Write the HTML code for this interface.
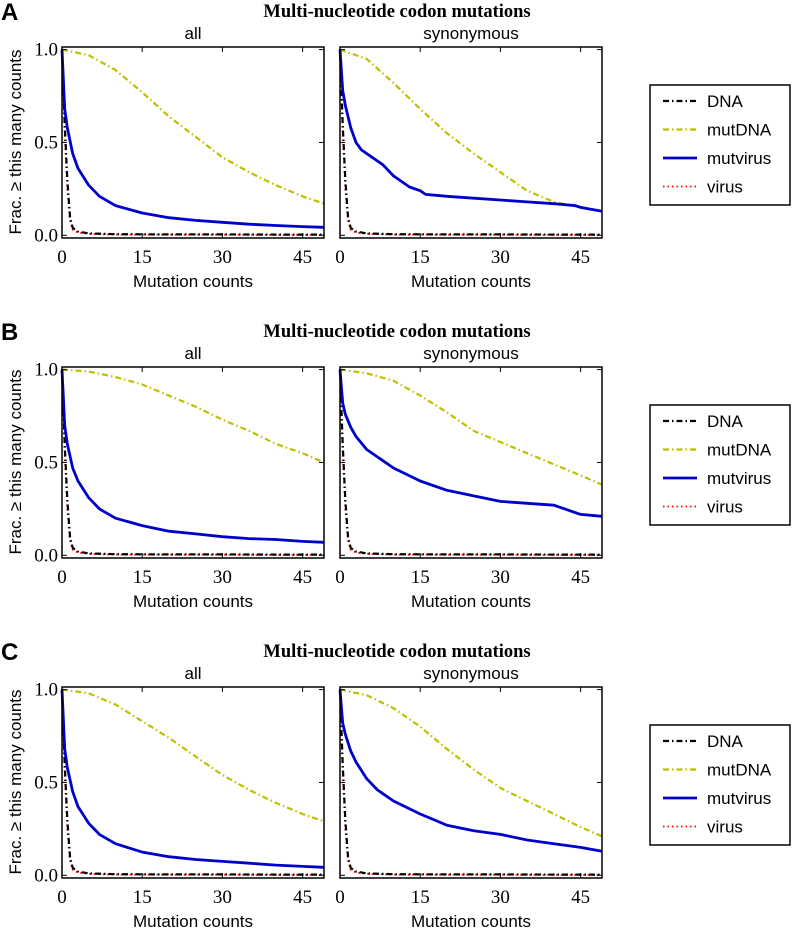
<!DOCTYPE html>
<html><head><meta charset="utf-8">
<style>
body{margin:0;background:#fff;}
svg{display:block;}
.tick{font-family:"Liberation Serif","DejaVu Serif",serif;font-size:19px;fill:#000;}
.lab{font-family:"Liberation Sans",sans-serif;font-size:17px;fill:#000;}
.ttl{font-family:"Liberation Serif","DejaVu Serif",serif;font-size:18.5px;font-weight:bold;fill:#000;}
.pl{font-family:"Liberation Sans",sans-serif;font-size:24px;font-weight:bold;fill:#000;}
</style></head>
<body>
<svg id="fig" width="792" height="929" viewBox="0 0 792 929" xmlns="http://www.w3.org/2000/svg"></svg>
<script>
// shared x positions (mutation counts)
const xsDNA = [0,0.5,1,1.5,2,3,5,10,20,30,40,49];
const dnaVals = [1,0.6,0.3,0.1,0.04,0.02,0.01,0.006,0.005,0.005,0.004,0.004];
const virusVals = [1,0.55,0.25,0.08,0.03,0.015,0.008,0.004,0.003,0.003,0.002,0.002];
const xsMut = [0,5,10,15,20,25,30,35,40,45,49];
const xsVir = [0,0.5,1,2,3,5,7,10,15,20,25,30,35,40,45,49];
const xsSyn = [0,0.5,1,2,3,4,6,8,10,13,15,16,20,25,30,35,40,44,45,49];
const xsSyn2 = [0,0.5,1,2,3,5,7,10,15,20,25,30,35,40,45,49];

const A_all_mutDNA = [1,0.97,0.89,0.77,0.64,0.53,0.42,0.34,0.27,0.21,0.17];
const A_all_mutvirus = [1,0.68,0.58,0.44,0.36,0.27,0.21,0.16,0.12,0.095,0.08,0.07,0.06,0.053,0.047,0.043];
const A_syn_mutDNA = [1,0.95,0.82,0.68,0.55,0.44,0.34,0.24,0.18,0.15,0.13];
const A_syn_mutvirus = [1,0.78,0.7,0.58,0.5,0.46,0.42,0.38,0.32,0.26,0.24,0.22,0.21,0.2,0.19,0.18,0.17,0.16,0.15,0.13];

const B_all_mutDNA = [1,0.99,0.96,0.92,0.86,0.8,0.73,0.67,0.6,0.55,0.5];
const B_all_mutvirus = [1,0.7,0.6,0.47,0.4,0.31,0.25,0.2,0.16,0.13,0.115,0.1,0.09,0.085,0.075,0.07];
const B_syn_mutDNA = [1,0.98,0.94,0.86,0.77,0.67,0.61,0.55,0.49,0.43,0.38];
const B_syn_mutvirus = [1,0.82,0.76,0.69,0.64,0.57,0.53,0.47,0.4,0.35,0.32,0.29,0.28,0.27,0.22,0.21];

const C_all_mutDNA = [1,0.98,0.92,0.83,0.74,0.64,0.54,0.46,0.39,0.33,0.29];
const C_all_mutvirus = [1,0.68,0.58,0.45,0.37,0.28,0.22,0.17,0.125,0.1,0.085,0.075,0.065,0.055,0.048,0.043];
const C_syn_mutDNA = [1,0.97,0.9,0.8,0.68,0.57,0.47,0.4,0.33,0.26,0.21];
const C_syn_mutvirus = [1,0.82,0.76,0.67,0.61,0.52,0.46,0.4,0.33,0.27,0.24,0.22,0.19,0.17,0.15,0.13];

const xTicks = [0,15,30,45];
const yTicks = [0,0.5,1];
const yTickLabels = ["0.0","0.5","1.0"];
const panelLetters = ["A","B","C"];
const legendNames = ["DNA","mutDNA","mutvirus","virus"];

const NS="http://www.w3.org/2000/svg";
const svg=document.getElementById('fig');
function el(t,a,p){const e=document.createElementNS(NS,t);for(const k in a)e.setAttribute(k,a[k]);(p||svg).appendChild(e);return e;}

const styles={
 DNA:{stroke:"#000","stroke-width":2.2,"stroke-dasharray":"6,3,1.5,3"},
 mutDNA:{stroke:"#bfbf00","stroke-width":2.2,"stroke-dasharray":"6,3,1.5,3"},
 mutvirus:{stroke:"#0000cc","stroke-width":2.8},
 virus:{stroke:"#ff0000","stroke-width":1.8,"stroke-dasharray":"1.5,3"}
};

const panels=[
 {all:[A_all_mutDNA,A_all_mutvirus,xsVir],syn:[A_syn_mutDNA,A_syn_mutvirus,xsSyn]},
 {all:[B_all_mutDNA,B_all_mutvirus,xsVir],syn:[B_syn_mutDNA,B_syn_mutvirus,xsSyn2]},
 {all:[C_all_mutDNA,C_all_mutvirus,xsVir],syn:[C_syn_mutDNA,C_syn_mutvirus,xsSyn2]}
];

function drawAxes(g,x0,top,title,vals,showY,name){
 const W=262,H=191,xmax=49;
 const y1=top+2.6, y0=top+188.3;
 const sx=v=>x0+v/xmax*W;
 const sy=v=>y0-(v)*(y0-y1);
 const ax=el('g',{},g);
 
 
 const t=el('text',{x:x0+W/2,y:top-8,'text-anchor':'middle',class:'lab'},ax);
 t.textContent=title;
 
 
 function line(xs,ys,key){
  const d=xs.map((x,i)=>(i?'L':'M')+sx(x).toFixed(1)+','+sy(ys[i]).toFixed(1)).join('');
  const p=el('path',Object.assign({d:d,fill:'none','stroke-linejoin':'round'},styles[key]),ax);
  
  
 }
 line(xsDNA,virusVals,'virus');
 line(xsDNA,dnaVals,'DNA');
 line(xsMut,vals[0],'mutDNA');
 line(vals[2],vals[1],'mutvirus');
 const fr=el('rect',{x:x0,y:top,width:W,height:H,fill:'none',stroke:'#000','stroke-width':1.5},ax);
 
 
 xTicks.forEach(v=>{
  const X=sx(v);
  el('line',{x1:X,x2:X,y1:top+H,y2:top+H-5,stroke:'#000'},ax);
  el('line',{x1:X,x2:X,y1:top,y2:top+5,stroke:'#000'},ax);
  const tl=el('text',{x:X,y:top+H+25,'text-anchor':'middle',class:'tick'},ax);
  tl.textContent=v;
  
  
 });
 yTicks.forEach((v,i)=>{
  const Y=sy(v);
  el('line',{x1:x0,x2:x0+5,y1:Y,y2:Y,stroke:'#000'},ax);
  el('line',{x1:x0+W,x2:x0+W-5,y1:Y,y2:Y,stroke:'#000'},ax);
  if(showY){
   const tl=el('text',{x:x0-4,y:Y+6,'text-anchor':'end',class:'tick'},ax);
   tl.textContent=yTickLabels[i];
   
   
  }
 });
 const xl=el('text',{x:x0+W/2,y:top+H+49,'text-anchor':'middle',class:'lab'},ax);
 xl.textContent='Mutation counts';
 
 
}

panels.forEach((p,i)=>{
 const off=i*320;
 const g=el('g',{});
 
 
 const L=el('text',{x:1,y:off+20,class:'pl'},g);
 L.textContent=panelLetters[i];
 
 
 const T=el('text',{x:397,y:off+17,'text-anchor':'middle',class:'ttl'},g);
 T.textContent='Multi-nucleotide codon mutations';
 
 
 const yl=el('text',{x:0,y:0,'text-anchor':'middle',class:'lab',transform:`translate(21,${off+142}) rotate(-90)`},g);
 yl.textContent='Frac. \u2265 this many counts';
 
 
 drawAxes(g,62,off+47,'all',p.all,true,'axes-all');
 drawAxes(g,340,off+47,'synonymous',p.syn,false,'axes-synonymous');
 const lg=el('g',{},g);
 
 
 el('rect',{x:650,y:off+85,width:140,height:120,fill:'#fff',stroke:'#000','stroke-width':1.5},lg);
 legendNames.forEach((n,j)=>{
  const y=off+101+j*28.5;
  const e=el('g',{},lg);
  
  
  el('line',Object.assign({x1:663,x2:697,y1:y,y2:y},styles[n]),e);
  const tx=el('text',{x:707,y:y+6,class:'lab'},e);
  tx.textContent=n;
 });
});
</script>
</body></html>
